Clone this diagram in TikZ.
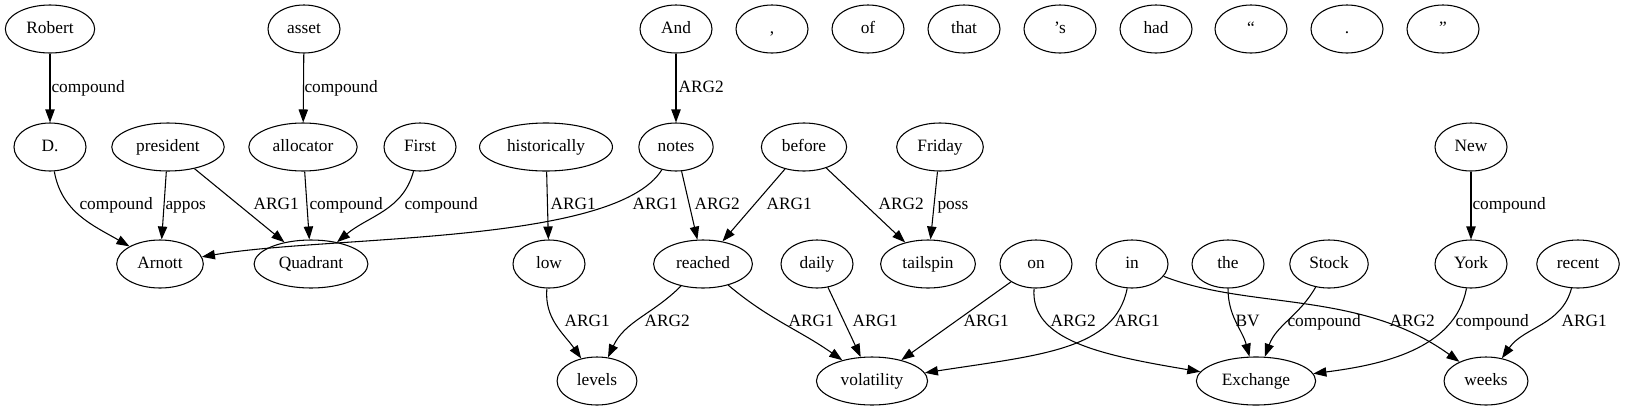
\documentclass[tikz,border=0pt]{standalone}
\usepackage{fontspec}
\setmainfont{Liberation Serif}
\usetikzlibrary{arrows.meta,shapes.geometric}

\newcommand{\graphfont}{\fontsize{13}{15}\selectfont}

\begin{document}
\begin{tikzpicture}[
  x=0.75pt, y=0.75pt,
  word/.style={draw, ellipse, minimum width=54pt, minimum height=36pt, inner xsep=6pt, inner ysep=2pt, text height=9pt, text depth=3pt, line width=0.8pt, font=\graphfont},
  lbl/.style={anchor=west, inner sep=0pt, text height=9pt, text depth=3pt, font=\graphfont},
  arc/.style={-{Triangle[length=9.75pt, width=7pt]}, line width=0.8pt, draw=black},
]
\useasboundingbox (0,0) rectangle (1627,-411);

% top row
\node[word] (robert) at (50,-29) {Robert};
\node[word] (asset) at (304,-29) {asset};
\node[word] (and) at (676,-29) {And};
\node[word] (comma) at (772,-29) {,};
\node[word] (of) at (868,-29) {of};
\node[word] (that) at (964,-29) {that};
\node[word] (poss) at (1060,-29) {’s};
\node[word] (had) at (1156,-29) {had};
\node[word] (lquote) at (1251,-29) {“};
\node[word] (period) at (1347,-29) {.};
\node[word] (rquote) at (1443,-29) {”};

% second row
\node[word] (dot) at (50,-147) {D.};
\node[word] (president) at (168,-147) {president};
\node[word] (allocator) at (303,-147) {allocator};
\node[word] (first) at (420,-147) {First};
\node[word] (historically) at (546,-147) {historically};
\node[word] (notes) at (676,-147) {notes};
\node[word] (before) at (804,-147) {before};
\node[word] (friday) at (940,-147) {Friday};
\node[word] (new) at (1471,-147) {New};

% third row
\node[word] (arnott) at (160,-264) {Arnott};
\node[word] (quadrant) at (311,-264) {Quadrant};
\node[word] (low) at (549,-264) {low};
\node[word] (reached) at (703,-264) {reached};
\node[word] (daily) at (817,-264) {daily};
\node[word] (tailspin) at (928,-264) {tailspin};
\node[word] (on) at (1036,-264) {on};
\node[word] (in) at (1132,-264) {in};
\node[word] (the) at (1228,-264) {the};
\node[word] (stock) at (1329,-264) {Stock};
\node[word] (york) at (1471,-264) {York};
\node[word] (recent) at (1578,-264) {recent};

% bottom row
\node[word] (levels) at (597,-381) {levels};
\node[word] (volatility) at (872,-381) {volatility};
\node[word] (exchange) at (1256,-381) {Exchange};
\node[word] (weeks) at (1486,-381) {weeks};

% edges from the top row
\draw[arc] (robert) -- (dot) node[lbl] at (51,-88) {compound};
\draw[arc] (asset) -- (allocator) node[lbl] at (304,-88) {compound};
\draw[arc] (and) -- (notes) node[lbl] at (678,-88) {ARG2};

% edges from the second row
\draw[arc] (dot) to[out=-80, in=150] (arnott) node[lbl] at (79,-205) {compound};
\draw[arc] (president) -- (arnott) node[lbl] at (165,-205) {appos};
\draw[arc] (president) -- (quadrant) node[lbl] at (253,-205) {ARG1};
\draw[arc] (allocator) -- (quadrant) node[lbl] at (309,-205) {compound};
\draw[arc] (first) to[out=-105, in=40] (quadrant) node[lbl] at (404,-205) {compound};
\draw[arc] (historically) -- (low) node[lbl] at (550,-205) {ARG1};
\draw[arc] (notes) .. controls (615,-245) and (330,-235) .. (arnott) node[lbl] at (632,-205) {ARG1};
\draw[arc] (notes) -- (reached) node[lbl] at (694,-205) {ARG2};
\draw[arc] (before) -- (reached) node[lbl] at (766,-205) {ARG1};
\draw[arc] (before) -- (tailspin) node[lbl] at (878,-205) {ARG2};
\draw[arc] (friday) -- (tailspin) node[lbl] at (937,-205) {poss};
\draw[arc] (new) -- (york) node[lbl] at (1472,-205) {compound};

% edges from the third row
\draw[arc] (low) to[out=-95, in=125] (levels) node[lbl] at (564,-322) {ARG1};
\draw[arc] (reached) to[out=-135, in=65] (levels) node[lbl] at (644,-322) {ARG2};
\draw[arc] (reached) to[out=-40, in=145] (volatility) node[lbl] at (788,-322) {ARG1};
\draw[arc] (daily) -- (volatility) node[lbl] at (852,-322) {ARG1};
\draw[arc] (on) -- (volatility) node[lbl] at (963,-322) {ARG1};
\draw[arc] (on) .. controls (1030,-340) and (1100,-355) .. (exchange) node[lbl] at (1050,-322) {ARG2};
\draw[arc] (in) .. controls (1115,-350) and (1040,-355) .. (volatility) node[lbl] at (1114,-322) {ARG1};
\draw[arc] (the) to[out=-90, in=105] (exchange) node[lbl] at (1235,-322) {BV};
\draw[arc] (stock) to[out=-120, in=70] (exchange) node[lbl] at (1287,-322) {compound};
\draw[arc] (in) .. controls (1250,-310) and (1360,-290) .. (weeks) node[lbl] at (1389,-322) {ARG2};
\draw[arc] (york) .. controls (1455,-350) and (1380,-365) .. (exchange) node[lbl] at (1455,-322) {compound};
\draw[arc] (recent) to[out=-105, in=55] (weeks) node[lbl] at (1561,-322) {ARG1};

\end{tikzpicture}
\end{document}
